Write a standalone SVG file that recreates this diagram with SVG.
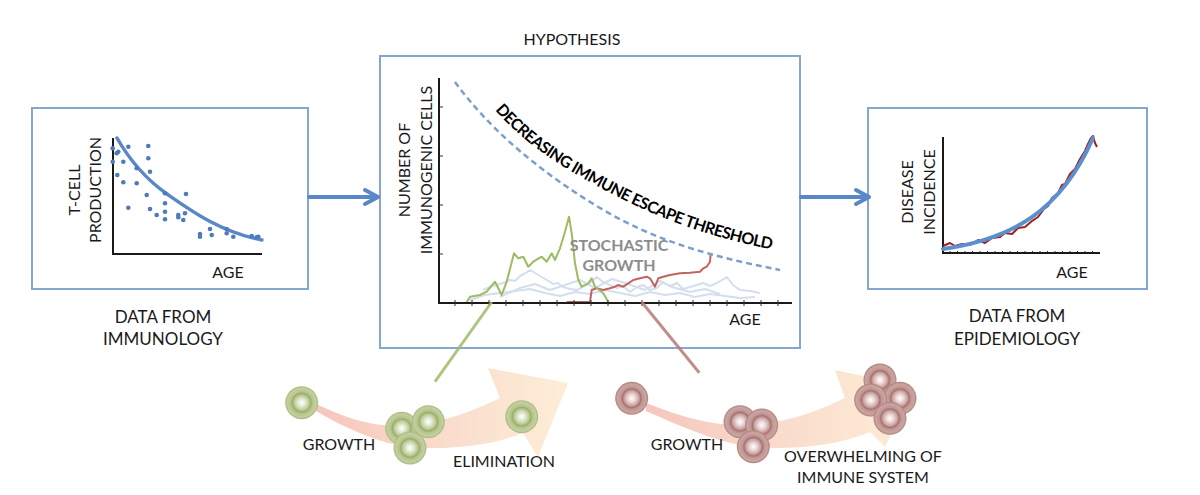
<svg xmlns="http://www.w3.org/2000/svg" xmlns:xlink="http://www.w3.org/1999/xlink" width="1200" height="495" viewBox="0 0 1200 495">
<defs>
<style>
.lbl{font-family:Lato,"Liberation Sans",sans-serif;font-size:16px;fill:#1a1a1a}
.cap{font-size:17px}
.mid{text-anchor:middle}
.box{fill:#fff;stroke:#86a6d2;stroke-width:2}
.axis{stroke:#1a1a1a;stroke-width:2;fill:none}
.tick{stroke:#333;stroke-width:1;fill:none}
.arrow{stroke:#5a87c6;stroke-width:4;fill:none;stroke-linecap:round;stroke-linejoin:round}
.dot{fill:#4f7bbd}
.faint{stroke:#d3dfef;stroke-width:2;fill:none;stroke-linejoin:round}
.walkG{stroke:#9dbb62;stroke-width:2;fill:none;stroke-linejoin:round}
.walkR{stroke:#c0645f;stroke-width:2;fill:none;stroke-linejoin:round}
.sto{font-family:Lato,"Liberation Sans",sans-serif;font-size:16px;font-weight:bold;fill:#8c8c8c}
.thr{font-family:Lato,"Liberation Sans",sans-serif;font-size:16px;font-weight:bold;letter-spacing:-0.6px;fill:#000}
</style>
<radialGradient id="gGrad" cx="50%" cy="50%" r="50%">
<stop offset="0" stop-color="#ffffff"/>
<stop offset="0.22" stop-color="#e3e9d3"/>
<stop offset="0.45" stop-color="#bccb95"/>
<stop offset="0.56" stop-color="#9bad6c"/>
<stop offset="0.66" stop-color="#b4c48b"/>
<stop offset="0.86" stop-color="#c3d09f"/>
<stop offset="1" stop-color="#a9b980"/>
</radialGradient>
<radialGradient id="rGrad" cx="50%" cy="50%" r="50%">
<stop offset="0" stop-color="#ffffff"/>
<stop offset="0.22" stop-color="#ecd8d7"/>
<stop offset="0.45" stop-color="#c9a3a1"/>
<stop offset="0.56" stop-color="#a6726e"/>
<stop offset="0.66" stop-color="#bf9592"/>
<stop offset="0.86" stop-color="#cba5a2"/>
<stop offset="1" stop-color="#ae817d"/>
</radialGradient>
<linearGradient id="sweep" x1="0" y1="0" x2="1" y2="0">
<stop offset="0" stop-color="#f2b4a6"/>
<stop offset="0.5" stop-color="#f8d0bb"/>
<stop offset="1" stop-color="#fde8c9"/>
</linearGradient>
<circle id="gcell" r="16.5" fill="url(#gGrad)"/>
<circle id="rcell" r="16.5" fill="url(#rGrad)"/>
<path id="thrPath" d="M495,110 C530,150 575,175 620,198 S720,240 775,250"/>
</defs>

<rect width="1200" height="495" fill="#fff"/>

<!-- Left node -->
<g id="node-immunology">
<rect class="box" x="32" y="108" width="276" height="181"/>
<path class="axis" d="M113,138 V254 H262"/>
<path d="M117,138 C125,152 140,175 167,194 C190,210 220,232 262,240" stroke="#5a87c6" stroke-width="3.5" fill="none" stroke-linecap="round"/>
<g class="dot">
<circle cx="112.7" cy="148.3" r="2.3"/><circle cx="116.7" cy="153.3" r="2.3"/><circle cx="118.3" cy="151.7" r="2.3"/><circle cx="128.3" cy="146.7" r="2.3"/><circle cx="148.3" cy="146" r="2.3"/><circle cx="112.7" cy="161.7" r="2.3"/><circle cx="123.3" cy="161.7" r="2.3"/><circle cx="136.7" cy="168.3" r="2.3"/><circle cx="148.3" cy="158.3" r="2.3"/><circle cx="150" cy="171.7" r="2.3"/><circle cx="117.3" cy="175" r="2.3"/><circle cx="123.3" cy="182.3" r="2.3"/><circle cx="136.7" cy="183.3" r="2.3"/><circle cx="146.7" cy="195" r="2.3"/><circle cx="150" cy="209" r="2.3"/><circle cx="128.3" cy="207.7" r="2.3"/><circle cx="156.7" cy="215" r="2.3"/><circle cx="165" cy="193.3" r="2.3"/><circle cx="165" cy="203.3" r="2.3"/><circle cx="165" cy="211.7" r="2.3"/><circle cx="165" cy="219.3" r="2.3"/><circle cx="178.3" cy="215" r="2.3"/><circle cx="178.3" cy="217.3" r="2.3"/><circle cx="183.3" cy="220" r="2.3"/><circle cx="186" cy="194" r="2.3"/><circle cx="185" cy="213.3" r="2.3"/><circle cx="200" cy="234" r="2.3"/><circle cx="200" cy="236.7" r="2.3"/><circle cx="210" cy="229" r="2.3"/><circle cx="211.7" cy="235" r="2.3"/><circle cx="226.7" cy="229" r="2.3"/><circle cx="226.7" cy="233.3" r="2.3"/><circle cx="233.3" cy="236.7" r="2.3"/><circle cx="251.7" cy="236" r="2.3"/><circle cx="256.7" cy="237.3" r="2.3"/><circle cx="258.3" cy="236.7" r="2.3"/>
</g>
<text class="lbl mid" transform="translate(80,190) rotate(-90)">T-CELL</text>
<text class="lbl mid" transform="translate(101,190) rotate(-90)">PRODUCTION</text>
<text class="lbl mid" x="228" y="278">AGE</text>
<text class="lbl cap mid" x="163" y="323">DATA FROM</text>
<text class="lbl cap mid" x="163" y="345">IMMUNOLOGY</text>
</g>

<!-- Center node -->
<g id="node-hypothesis">
<text class="lbl mid" x="572" y="45">HYPOTHESIS</text>
<rect class="box" x="380" y="56" width="420" height="292"/>
<g class="faint">
<path d="M483,290 L490,287 L497,285 L503,283 L510,280 L515,281 L520,276 L526,273 L530,270 L535,273 L540,276 L547,280 L553,284 L558,283 L563,287 L570,289 L577,290 L583,287 L590,283 L597,277 L603,282 L610,285 L617,288 L623,286 L630,292 L637,287 L643,285 L650,290 L657,288 L663,282 L670,286 L677,283 L683,289 L690,287 L697,285 L703,283 L710,286 L717,283 L722,280 L727,277 L733,285 L740,290 L750,291 L760,293"/>
<path d="M470,300 L485,295 L500,293 L515,291 L530,289 L545,293 L560,296 L575,292 L590,294 L605,290 L620,293 L635,296 L650,292 L665,295 L680,293 L695,297 L710,294 L725,296 L740,298 L755,297"/>
<path d="M500,297 L520,288 L535,284 L550,290 L565,285 L580,280 L595,288 L612,279 L628,284 L645,290 L660,281 L672,287 L690,292 L705,289 L720,294"/>
</g>
<path class="walkR" d="M566.7,302 L590,302 L591.7,290 L596.7,288.3 L603.3,290 L610,288.3 L615,286.7 L618.3,285 L623.3,286.7 L628.3,283.3 L633.3,280 L640,278.3 L646.7,276.7 L650,278.3 L655,286.7 L658.3,278.3 L663.3,276.7 L670,275 L680,273.3 L690,272.7 L700,271.7 L703.3,268.3 L706.7,266.7 L710,261.7 L710.7,253.3"/>
<path class="walkG" d="M466.7,302 L470,296.7 L480,295 L486.7,291.7 L495,281.7 L501.7,295 L506.7,281.7 L514,253.3 L518.3,258.3 L523.3,256.7 L528.3,266.7 L533.3,261.7 L541.7,256.7 L546.7,261.7 L551.7,253.3 L555,260 L560,248.3 L565,231.7 L569,216.7 L571.7,233.3 L575,263.3 L578.3,280 L581.7,286.7 L588.3,283.3 L591.7,278.3 L595,286.7 L603.3,293.3 L608.3,302"/>
<path d="M455,82 C490,130 540,172 600,208 S720,258 780,270" stroke="#7d9fc9" stroke-width="2.5" stroke-dasharray="6,4" fill="none"/>
<text class="thr"><textPath href="#thrPath">DECREASING IMMUNE ESCAPE THRESHOLD</textPath></text>
<text class="sto mid" x="619" y="251">STOCHASTIC</text>
<text class="sto mid" x="619" y="271">GROWTH</text>
<path class="axis" d="M439,78 V303 H792"/>
<path class="tick" d="M455,300v6M472,300v6M489,300v6M506,300v6M523,300v6M540,300v6M557,300v6M574,300v6M591,300v6M608,300v6M625,300v6M642,300v6M659,300v6M676,300v6M693,300v6M710,300v6M727,300v6M744,300v6M761,300v6M778,300v6M439,107h4M439,156h4M439,205h4M439,254h4"/>
<text class="lbl mid" transform="translate(410,170) rotate(-90)">NUMBER OF</text>
<text class="lbl mid" transform="translate(432,170) rotate(-90)">IMMUNOGENIC CELLS</text>
<text class="lbl mid" x="745" y="325">AGE</text>
</g>

<!-- Right node -->
<g id="node-epidemiology">
<rect class="box" x="868" y="108" width="279" height="181"/>
<path class="tick" stroke="#777" d="M950,251v3M957.5,251v3M965,251v3M972.5,251v3M980,251v3M987.5,251v3M995,251v3M1002.5,251v3M1010,251v3M1017.5,251v3M1025,251v3M1032.5,251v3M1040,251v3M1047.5,251v3M1055,251v3M1062.5,251v3M1070,251v3M1077.5,251v3M1085,251v3M1092.5,251v3"/>
<path class="axis" d="M943,137 V253 H1100"/>
<path d="M943,246 L950,243 L955,246 L962,244 L970,245 L978,240 L985,243 L992,238 L1000,237 L1005,233 L1012,234 L1018,228 L1025,227 L1032,221 L1038,217 L1044,209 L1048,206 L1052,198 L1058,193 L1062,185 L1065,184 L1070,174 L1075,169 L1080,159 L1085,151 L1088,144 L1091,138 L1093,136 L1095,143 L1097,147" stroke="#9e1f1f" stroke-width="2" fill="none" stroke-linejoin="round"/>
<path d="M943,249 C1012,239 1061,211 1093,138" stroke="#5d8fcf" stroke-width="4" fill="none" stroke-linecap="round"/>
<text class="lbl mid" transform="translate(913,192) rotate(-90)">DISEASE</text>
<text class="lbl mid" transform="translate(935,192) rotate(-90)">INCIDENCE</text>
<text class="lbl mid" x="1072" y="278">AGE</text>
<text class="lbl cap mid" x="1017" y="322">DATA FROM</text>
<text class="lbl cap mid" x="1017" y="345">EPIDEMIOLOGY</text>
</g>

<!-- Elimination scenario -->
<g id="node-elimination">
<path d="M316,404 C350,420 380,430 420,424 C450,420 475,410 500,398 L488,368 L568,383 L538,457 L523,433 C490,447 440,450 410,447 C380,444 345,428 316,411 Z" fill="url(#sweep)" opacity="0.75"/>
<use href="#gcell" x="301.7" y="402.7"/>
<use href="#gcell" x="401.7" y="428.3"/>
<use href="#gcell" x="428.3" y="421.7"/>
<use href="#gcell" x="410" y="448"/>
<use href="#gcell" x="521.7" y="416.7"/>
<text class="lbl mid" x="339" y="450">GROWTH</text>
<text class="lbl mid" x="504" y="467">ELIMINATION</text>
</g>

<!-- Escape scenario -->
<g id="node-escape">
<path d="M646,403 C690,420 720,428 760,424 C795,420 820,410 845,398 L835,370 L915,387 L885,447 L870,432 C835,447 785,450 755,447 C720,444 685,428 646,411 Z" fill="url(#sweep)" opacity="0.75"/>
<use href="#rcell" x="631.7" y="398.3"/>
<use href="#rcell" x="740" y="421.7"/>
<use href="#rcell" x="761.7" y="425"/>
<use href="#rcell" x="753.3" y="446.7"/>
<use href="#rcell" x="880" y="380"/>
<use href="#rcell" x="900" y="398.3"/>
<use href="#rcell" x="870.7" y="400"/>
<use href="#rcell" x="890" y="418.3"/>
<text class="lbl mid" x="687" y="450">GROWTH</text>
<text class="lbl mid" x="863" y="462">OVERWHELMING OF</text>
<text class="lbl mid" x="863" y="483">IMMUNE SYSTEM</text>
</g>

<!-- Connectors -->
<g id="connectors">
<path class="arrow" d="M309,197 H378 M365,190 L378,197 L365,204"/>
<path class="arrow" d="M801,197 H869 M856,190 L869,197 L856,204"/>
<path d="M491.7,302 L435,381.7" stroke="#9fbc6a" stroke-width="3" opacity="0.85"/>
<path d="M641.7,302 L699.3,372.7" stroke="#b57c78" stroke-width="3" opacity="0.85"/>
</g>
</svg>
